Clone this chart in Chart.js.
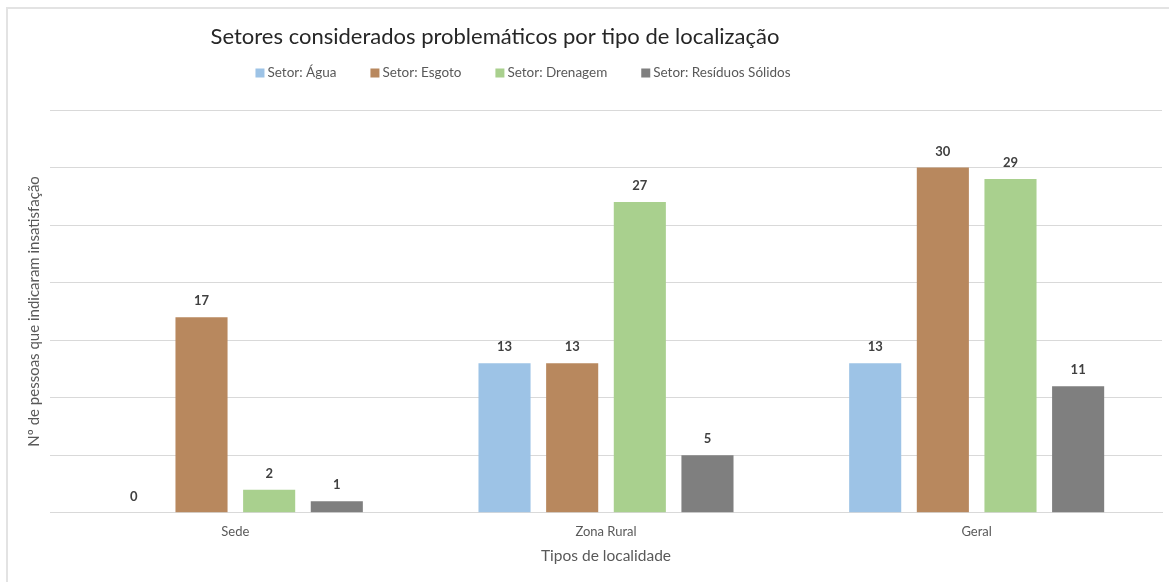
<!DOCTYPE html>
<html>
<head>
<meta charset="utf-8">
<script src="https://cdn.jsdelivr.net/npm/chart.js@4.4.1/dist/chart.umd.min.js"></script>
<style>
  body { margin: 0; background: #fff; }
  #wrap { width: 1169px; height: 582px; position: relative; }
</style>
</head>
<body>
<div id="wrap"><canvas id="myChart" width="1169" height="582"></canvas></div>
<script>
// data
const categories = ["Sede", "Zona Rural", "Geral"];
const seriesNames = ["Setor: Água", "Setor: Esgoto", "Setor: Drenagem", "Setor: Resíduos Sólidos"];
const agua = [0, 13, 13];
const esgoto = [17, 13, 30];
const drenagem = [2, 27, 29];
const residuos = [1, 5, 11];
const colors = ["#9DC3E6", "#B8885E", "#A9D08E", "#7F7F7F"];

const titleText = "Setores considerados problemáticos por tipo de localização";
const yTitle = "Nº de pessoas que indicaram insatisfação";
const xTitle = "Tipos de localidade";
const fontFamily = "Lato, 'Open Sans', sans-serif";

// title, legend, frame and value labels
const extras = {
  id: "extras",
  beforeDraw(chart) {
    const ctx = chart.ctx;
    ctx.save();
    ctx.strokeStyle = "#e3e3e3";
    ctx.lineWidth = 2;
    ctx.beginPath();
    ctx.moveTo(7, chart.height);
    ctx.lineTo(7, 8);
    ctx.lineTo(chart.width, 8);
    ctx.stroke();
    ctx.restore();
  },
  afterDatasetsDraw(chart) {
    const ctx = chart.ctx;
    ctx.save();
    ctx.font = "bold 13px " + fontFamily;
    ctx.fillStyle = "#404040";
    ctx.textAlign = "center";
    ctx.textBaseline = "middle";
    chart.data.datasets.forEach((ds, i) => {
      chart.getDatasetMeta(i).data.forEach((bar, j) => {
        ctx.fillText(ds.data[j], bar.x, bar.y - 16);
      });
    });
    ctx.restore();
  },
  afterDraw(chart) {
    const ctx = chart.ctx;
    ctx.save();
    ctx.fillStyle = "#262626";
    ctx.font = "22px " + fontFamily;
    ctx.textAlign = "center";
    ctx.textBaseline = "middle";
    ctx.fillText(titleText, 495, 37);

    // legend
    ctx.font = "13.5px " + fontFamily;
    ctx.textAlign = "left";
    const box = 9, gap = 3, spacing = 34;
    const widths = chart.data.datasets.map(ds => box + gap + ctx.measureText(ds.label).width);
    const total = widths.reduce((a, b) => a + b, 0) + spacing * (widths.length - 1);
    let x = 523 - total / 2;
    chart.data.datasets.forEach((ds, i) => {
      ctx.fillStyle = ds.backgroundColor;
      ctx.fillRect(x, 73 - box / 2, box, box);
      ctx.fillStyle = "#595959";
      ctx.fillText(ds.label, x + box + gap, 73);
      x += widths[i] + spacing;
    });
    ctx.restore();
  }
};

const seriesData = [agua, esgoto, drenagem, residuos];

const myChart = new Chart("myChart", {
  type: "bar",
  data: {
    labels: categories,
    datasets: seriesNames.map((name, i) => ({
      label: name,
      data: seriesData[i],
      backgroundColor: colors[i],
      categoryPercentage: 0.73,
      barPercentage: 0.77,
    })),
  },
  options: {
    responsive: false,
    animation: false,
    layout: {
      padding: { top: 110, left: 20, right: 7, bottom: 17 },
    },
    scales: {
      y: {
        min: 0,
        max: 35,
        ticks: { display: false, stepSize: 5 },
        grid: { color: "#d9d9d9", drawTicks: false },
        border: { display: false },
        title: {
          display: true,
          text: yTitle,
          color: "#595959",
          font: { size: 15, family: fontFamily },
          padding: { top: 5, bottom: 7 },
        },
      },
      x: {
        grid: { display: false, drawTicks: false },
        border: { display: true, color: "#d9d9d9", width: 1 },
        ticks: {
          color: "#595959",
          padding: 11,
          font: { size: 13, family: fontFamily },
        },
        title: {
          display: true,
          text: xTitle,
          color: "#595959",
          font: { size: 15.5, family: fontFamily },
          padding: { top: -4, bottom: 0 },
        },
      },
    },
    plugins: {
      legend: { display: false },
      title: { display: false },
      tooltip: { enabled: false },
    },
  },
  plugins: [extras],
});
</script>
</body>
</html>
